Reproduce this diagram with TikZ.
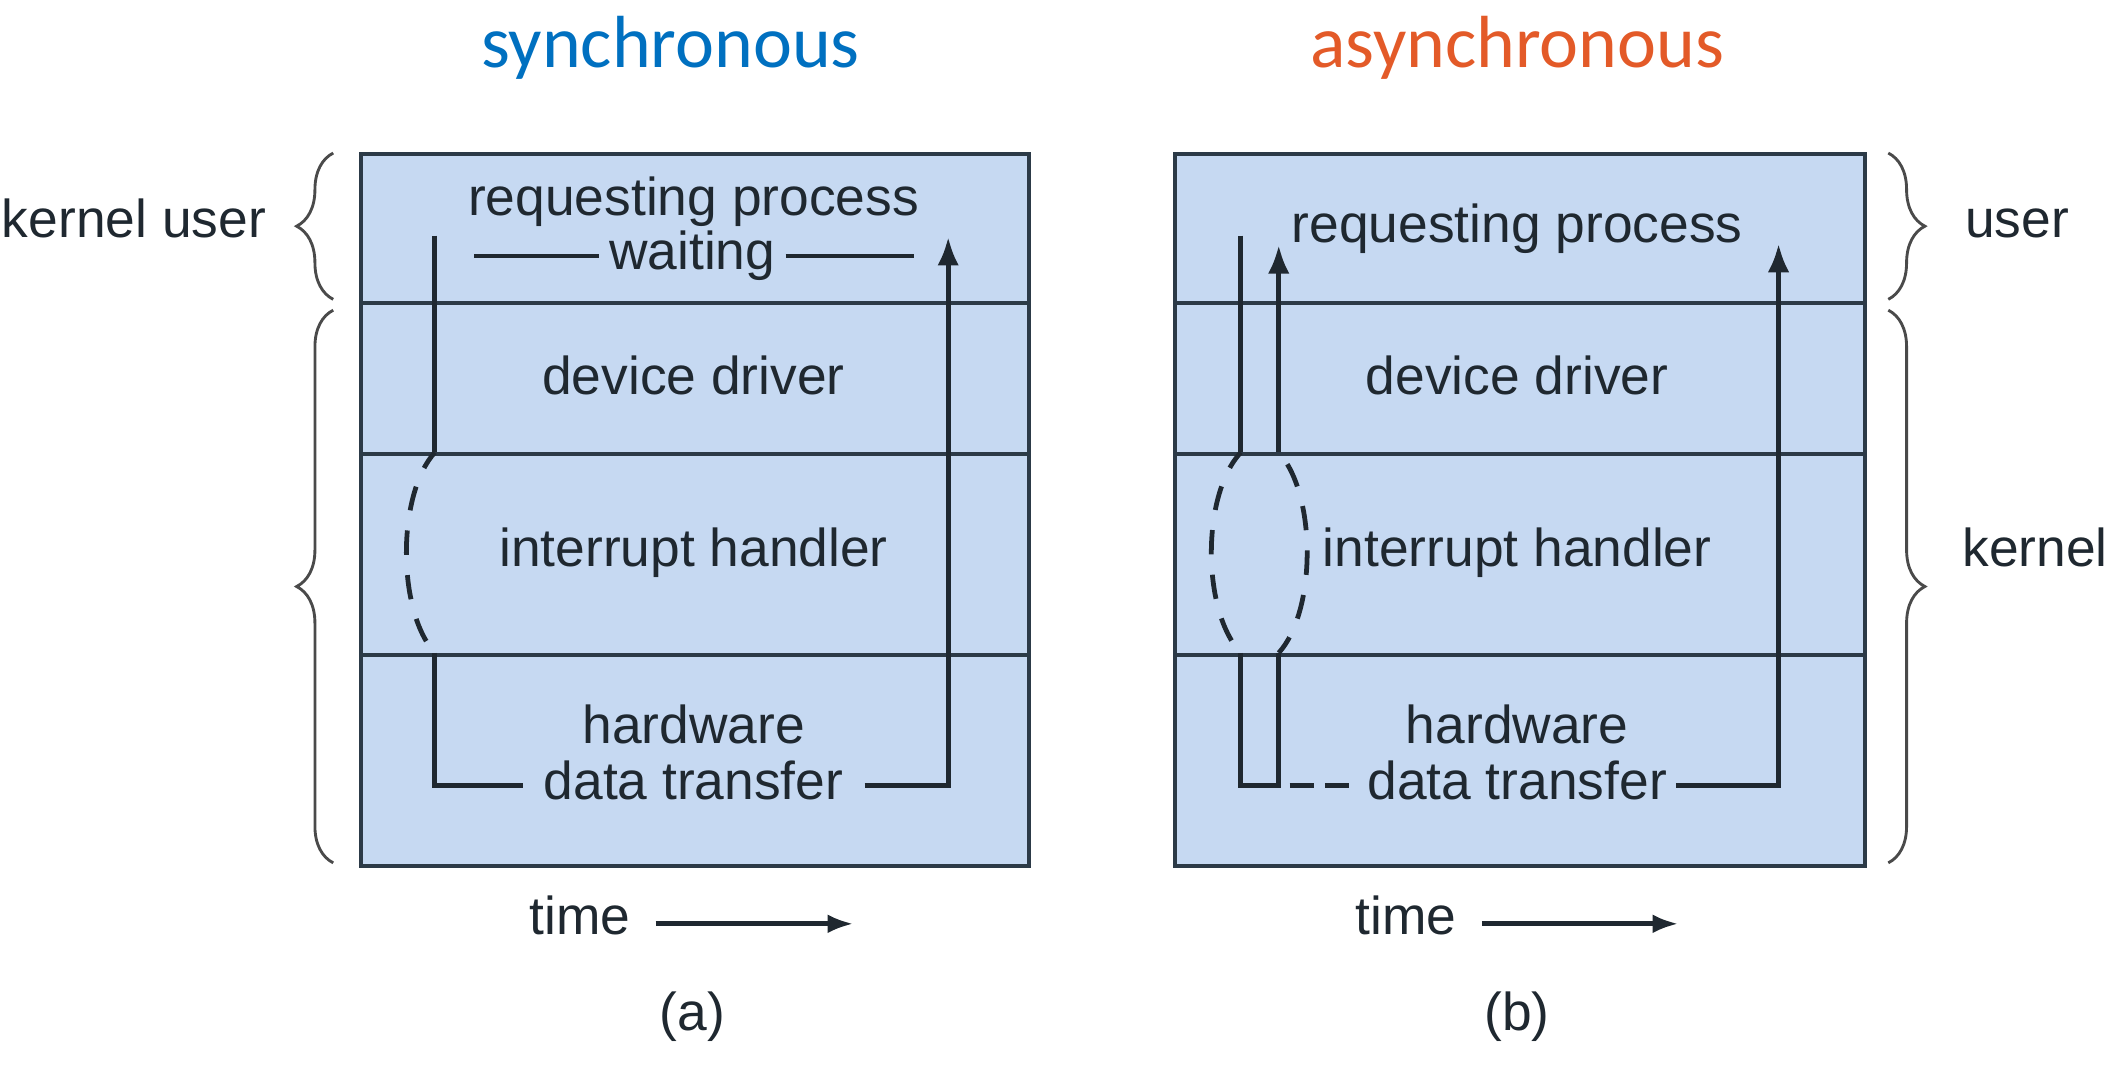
\documentclass[tikz,border=0pt]{standalone}
\usepackage{fontspec}
\setmainfont{Liberation Sans}
\newfontfamily\titlefont{Carlito}
\usetikzlibrary{arrows.meta,decorations.pathreplacing}

\definecolor{rowfill}{HTML}{C6D9F2}
\definecolor{rowline}{HTML}{2C3A47}
\definecolor{ink}{HTML}{1F2830}
\definecolor{syncblue}{HTML}{0070C0}
\definecolor{asyncorange}{HTML}{E35A28}
\definecolor{bracecol}{HTML}{4A4A4A}

\begin{document}
\begin{tikzpicture}[x=0.01cm,y=-0.01cm,
  rowbox/.style={draw=rowline,fill=rowfill,line width=0.8pt,inner sep=0pt,anchor=north west},
  txt/.style={inner sep=0pt,text=ink,font=\fontsize{11.2}{13}\selectfont,anchor=base},
  ttl/.style={inner sep=0pt,font=\titlefont\fontsize{15.5}{18}\selectfont,anchor=base},
  conn/.style={draw=ink,line width=1pt},
  dcurve/.style={conn,dash pattern=on 0.18cm off 0.15cm,dash phase=0.04cm},
  tip/.style={-{Latex[length=0.21cm,width=0.16cm]}},
  smalltip/.style={-{Latex[length=0.19cm,width=0.14cm]}},
  bracedec/.style={draw=bracecol,line width=0.6pt,decorate,decoration={brace,amplitude=0.27cm,aspect=0.5}}
]
\useasboundingbox (0,0) rectangle (1568,798);

% titles
\node[ttl,text=syncblue] (t-sync) at (495,50) {synchronous};
\node[ttl,text=asyncorange] (t-async) at (1120,50) {asynchronous};

% ---------- box (a) ----------
\node[rowbox,minimum width=4.93cm,minimum height=1.10cm] (a-user) at (265,112) {};
\node[rowbox,minimum width=4.93cm,minimum height=1.12cm] (a-drv) at (265,222) {};
\node[rowbox,minimum width=4.93cm,minimum height=1.48cm] (a-int) at (265,334) {};
\node[rowbox,minimum width=4.93cm,minimum height=1.56cm] (a-hw) at (265,482) {};

\node[txt] (a-req) at (512,159) {requesting process};
\node[txt,inner xsep=0.07cm] (a-wait) at (511,199) {waiting};
\node[txt] (a-dd) at (512,291) {device driver};
\node[txt] (a-ih) at (512,418) {interrupt handler};
\node[txt] (a-hwt) at (512,549) {hardware};
\node[txt,inner xsep=0.15cm] (a-dt) at (512,590) {data transfer};

\coordinate (a-wl) at (350,189);
\coordinate (a-wr) at (675,189);
\draw[conn] (a-wl) -- (a-wl -| a-wait.west);
\draw[conn] (a-wait.east |- a-wr) -- (a-wr);

\coordinate (a-start) at (321,174);
\coordinate (a-d1) at (321,334);
\coordinate (a-d2) at (321,482);
\coordinate (a-corner) at (321,580);
\coordinate (a-rc) at (700,580);
\coordinate (a-end) at (700,175);
\draw[conn] (a-start) -- (a-d1);
\draw[dcurve] (a-d1) .. controls (293,365) and (293,451) .. (a-d2);
\draw[conn] (a-d2) -- (a-corner) -- (a-corner -| a-dt.west);
\draw[conn,tip] (a-dt.east |- a-rc) -- (a-rc) -- (a-end);

\node[txt,inner xsep=0.18cm] (a-time) at (428,690) {time};
\coordinate (a-tend) at (630,682);
\draw[conn,smalltip] (a-time.east |- a-tend) -- (a-tend);
\node[txt] (a-lab) at (511,761) {(a)};

% ---------- box (b) ----------
\node[rowbox,minimum width=5.09cm,minimum height=1.10cm] (b-user) at (866,112) {};
\node[rowbox,minimum width=5.09cm,minimum height=1.12cm] (b-drv) at (866,222) {};
\node[rowbox,minimum width=5.09cm,minimum height=1.48cm] (b-int) at (866,334) {};
\node[rowbox,minimum width=5.09cm,minimum height=1.56cm] (b-hw) at (866,482) {};

\node[txt] (b-req) at (1120,179) {requesting process};
\node[txt] (b-dd) at (1120,291) {device driver};
\node[txt] (b-ih) at (1120,418) {interrupt handler};
\node[txt] (b-hwt) at (1120,549) {hardware};
\node[txt,inner xsep=0.06cm] (b-dt) at (1120,590) {data transfer};

\coordinate (b-start) at (916,174);
\coordinate (b-d1l) at (916,334);
\coordinate (b-d2l) at (916,482);
\coordinate (b-corner) at (916,580);
\coordinate (b-mid) at (944,580);
\coordinate (b-r2) at (944,482);
\coordinate (b-r1) at (944,334);
\coordinate (b-rend) at (944,181);
\coordinate (b-rc) at (1313,580);
\coordinate (b-end) at (1313,180);
\draw[conn] (b-start) -- (b-d1l);
\draw[dcurve] (b-d1l) .. controls (887,365) and (887,451) .. (b-d2l);
\draw[conn] (b-d2l) -- (b-corner) -- (b-mid) -- (b-r2);
\draw[dcurve] (b-r2) .. controls (972,451) and (972,365) .. (b-r1);
\draw[conn,tip] (b-r1) -- (b-rend);
\draw[conn,dash pattern=on 0.18cm off 0.08cm,dash phase=0.18cm] (b-mid) -- (b-mid -| b-dt.west);
\draw[conn,tip] (b-dt.east |- b-rc) -- (b-rc) -- (b-end);

\node[txt,inner xsep=0.18cm] (b-time) at (1038,690) {time};
\coordinate (b-tend) at (1239,682);
\draw[conn,smalltip] (b-time.east |- b-tend) -- (b-tend);
\node[txt] (b-lab) at (1120,761) {(b)};

% ---------- braces and labels ----------
\coordinate (lb1) at (246,221);
\coordinate (lt1) at (246,113);
\coordinate (lb2) at (246,637);
\coordinate (lt2) at (246,229);
\draw[bracedec] (lb1) -- (lt1);
\draw[bracedec] (lb2) -- (lt2);
\node[txt,anchor=base east] (l-ku) at (197,175) {kernel user};

\coordinate (rt1) at (1394,113);
\coordinate (rb1) at (1394,221);
\coordinate (rt2) at (1394,229);
\coordinate (rb2) at (1394,637);
\draw[bracedec] (rt1) -- (rb1);
\draw[bracedec] (rt2) -- (rb2);
\node[txt,anchor=base west] (r-user) at (1450,175) {user};
\node[txt,anchor=base west] (r-kern) at (1448,418) {kernel};
\end{tikzpicture}
\end{document}
